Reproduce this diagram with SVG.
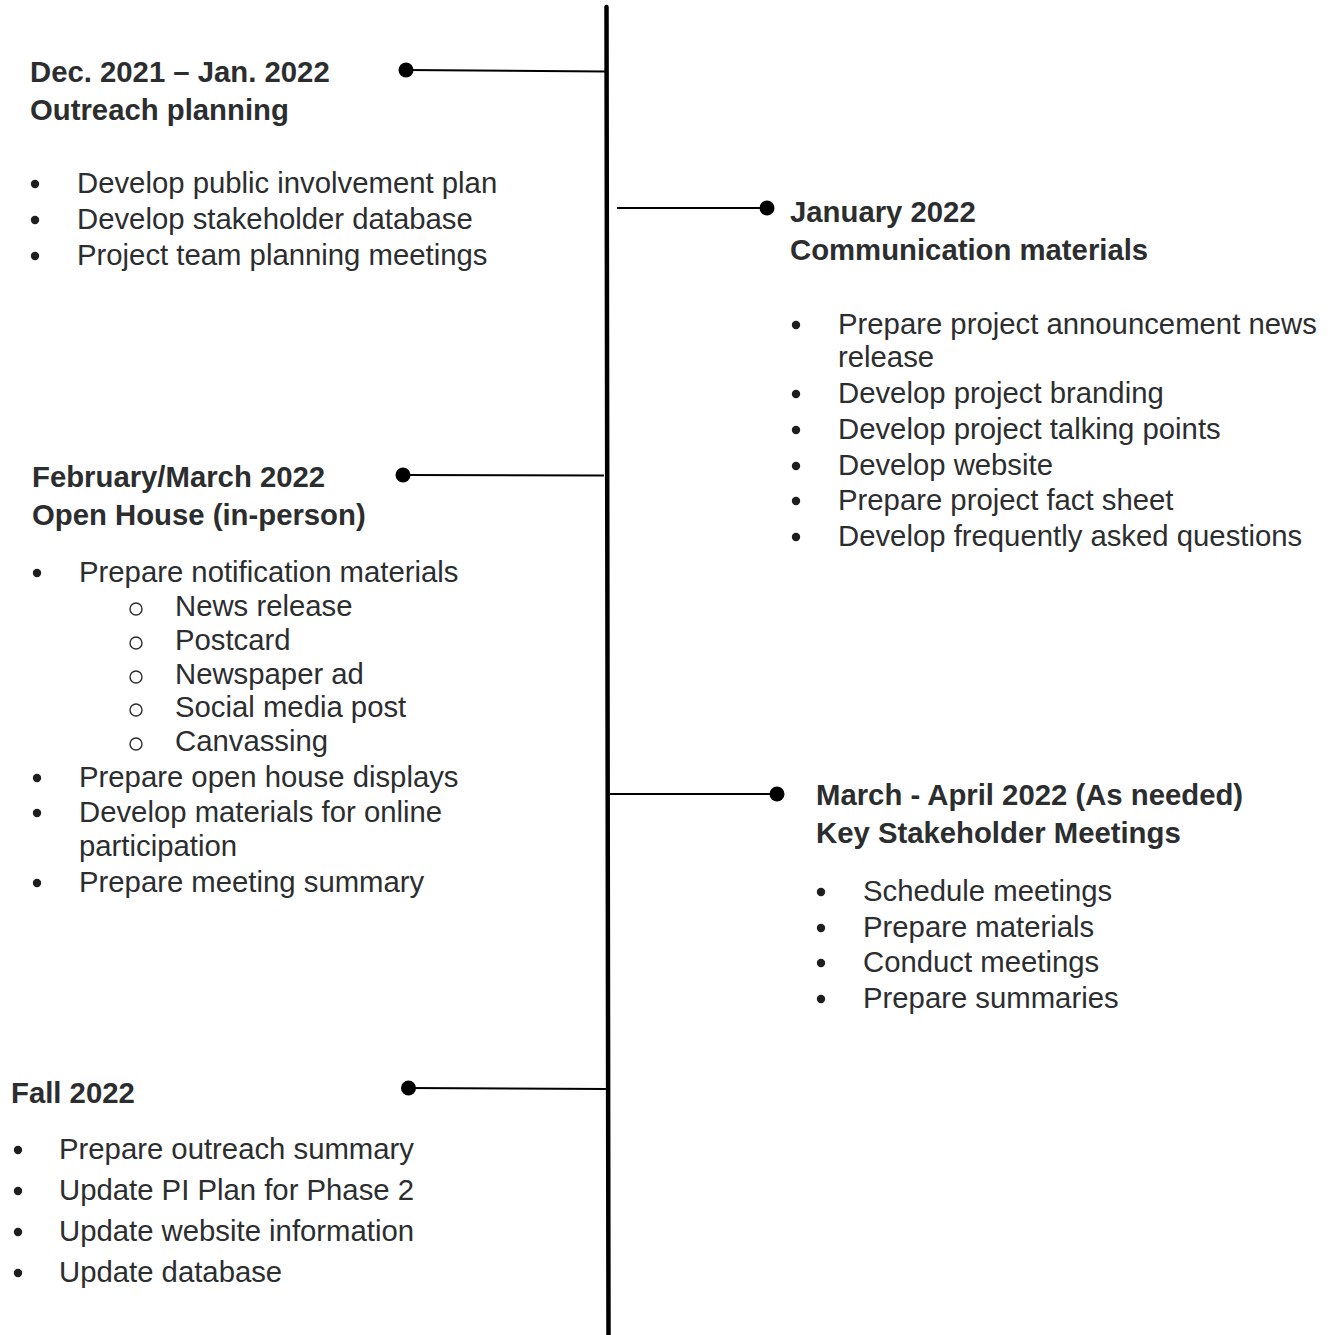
<svg xmlns="http://www.w3.org/2000/svg" width="1331" height="1335" viewBox="0 0 1331 1335">
<style>
text{font-family:"Liberation Sans",Arial,sans-serif;font-size:29.3px;fill:#2b2d2f}
.h{font-weight:bold}
.b{fill:#1e1e1e}
.o{fill:none;stroke:#2b2d2f;stroke-width:1.4}
.ln{stroke:#000;stroke-width:2;fill:none}
.dot{fill:#000}
</style>
<rect width="1331" height="1335" fill="#fff"/>
<g id="connectors">
<line x1="606.5" y1="7" x2="608.5" y2="1340" stroke="#000" stroke-width="4.5" stroke-linecap="round"/>
<line class="ln" x1="406" y1="70" x2="606" y2="71.5"/>
<circle class="dot" cx="406" cy="70" r="7.5"/>
<line class="ln" x1="617" y1="208" x2="767" y2="208"/>
<circle class="dot" cx="767" cy="208" r="7.5"/>
<line class="ln" x1="403" y1="475" x2="604" y2="475.5"/>
<circle class="dot" cx="403" cy="475" r="7.5"/>
<line class="ln" x1="610" y1="794" x2="777" y2="794"/>
<circle class="dot" cx="777" cy="794" r="7.5"/>
<line class="ln" x1="408.5" y1="1088" x2="607" y2="1089"/>
<circle class="dot" cx="408.5" cy="1088" r="7.5"/>
</g>
<g id="outreach-planning">
<text class="h" x="30" y="82">Dec. 2021 – Jan. 2022</text>
<text class="h" x="30" y="120">Outreach planning</text>
<circle class="b" cx="35" cy="184" r="4.2"/>
<text x="77" y="193">Develop public involvement plan</text>
<circle class="b" cx="35" cy="220" r="4.2"/>
<text x="77" y="229">Develop stakeholder database</text>
<circle class="b" cx="35" cy="256" r="4.2"/>
<text x="77" y="265">Project team planning meetings</text>
</g>
<g id="communication-materials">
<text class="h" x="790" y="222">January 2022</text>
<text class="h" x="790" y="260">Communication materials</text>
<circle class="b" cx="796" cy="325" r="4.2"/>
<text x="838" y="334">Prepare project announcement news</text>
<text x="838" y="367">release</text>
<circle class="b" cx="796" cy="394" r="4.2"/>
<text x="838" y="403">Develop project branding</text>
<circle class="b" cx="796" cy="430" r="4.2"/>
<text x="838" y="439">Develop project talking points</text>
<circle class="b" cx="796" cy="466" r="4.2"/>
<text x="838" y="475">Develop website</text>
<circle class="b" cx="796" cy="501" r="4.2"/>
<text x="838" y="510">Prepare project fact sheet</text>
<circle class="b" cx="796" cy="537" r="4.2"/>
<text x="838" y="546">Develop frequently asked questions</text>
</g>
<g id="open-house">
<text class="h" x="32" y="487">February/March 2022</text>
<text class="h" x="32" y="525">Open House (in-person)</text>
<circle class="b" cx="37" cy="573" r="4.2"/>
<text x="79" y="582">Prepare notification materials</text>
<circle class="o" cx="136" cy="609" r="6"/>
<text x="175" y="616">News release</text>
<circle class="o" cx="136" cy="643" r="6"/>
<text x="175" y="650">Postcard</text>
<circle class="o" cx="136" cy="677" r="6"/>
<text x="175" y="684">Newspaper ad</text>
<circle class="o" cx="136" cy="710" r="6"/>
<text x="175" y="717">Social media post</text>
<circle class="o" cx="136" cy="744" r="6"/>
<text x="175" y="751">Canvassing</text>
<circle class="b" cx="37" cy="778" r="4.2"/>
<text x="79" y="787">Prepare open house displays</text>
<circle class="b" cx="37" cy="813" r="4.2"/>
<text x="79" y="822">Develop materials for online</text>
<text x="79" y="856">participation</text>
<circle class="b" cx="37" cy="883" r="4.2"/>
<text x="79" y="892">Prepare meeting summary</text>
</g>
<g id="stakeholder-meetings">
<text class="h" x="816" y="805">March - April 2022 (As needed)</text>
<text class="h" x="816" y="843">Key Stakeholder Meetings</text>
<circle class="b" cx="821" cy="892" r="4.2"/>
<text x="863" y="901">Schedule meetings</text>
<circle class="b" cx="821" cy="928" r="4.2"/>
<text x="863" y="937">Prepare materials</text>
<circle class="b" cx="821" cy="963" r="4.2"/>
<text x="863" y="972">Conduct meetings</text>
<circle class="b" cx="821" cy="999" r="4.2"/>
<text x="863" y="1008">Prepare summaries</text>
</g>
<g id="fall-2022">
<text class="h" x="11" y="1103">Fall 2022</text>
<circle class="b" cx="18" cy="1150" r="4.2"/>
<text x="59" y="1159">Prepare outreach summary</text>
<circle class="b" cx="18" cy="1191" r="4.2"/>
<text x="59" y="1200">Update PI Plan for Phase 2</text>
<circle class="b" cx="18" cy="1232" r="4.2"/>
<text x="59" y="1241">Update website information</text>
<circle class="b" cx="18" cy="1273" r="4.2"/>
<text x="59" y="1282">Update database</text>
</g>
</svg>
